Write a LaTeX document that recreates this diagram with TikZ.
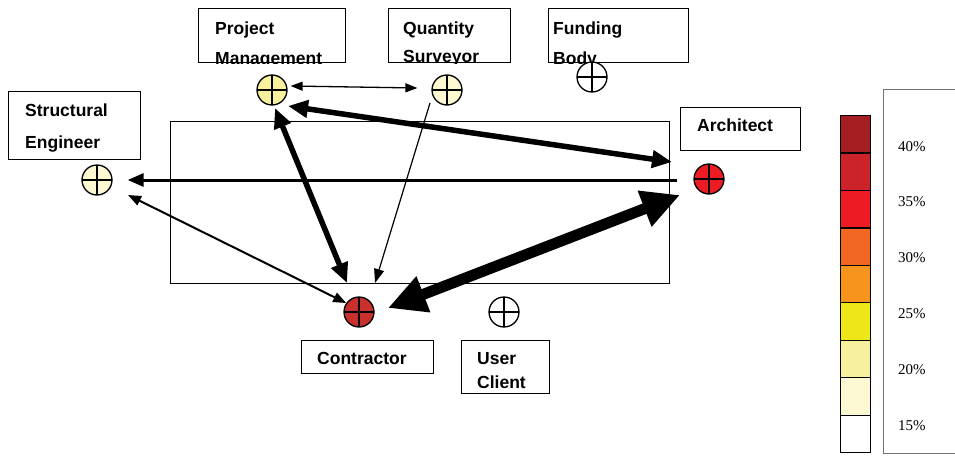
\documentclass[tikz,border=0pt]{standalone}
\usepackage{fontspec}
\setmainfont{Liberation Serif}
\newfontfamily\labfont{Liberation Sans}
\usetikzlibrary{arrows.meta}
\definecolor{cA}{HTML}{A41E22}
\definecolor{cB}{HTML}{CC2229}
\definecolor{cC}{HTML}{ED1C24}
\definecolor{cD}{HTML}{F26722}
\definecolor{cE}{HTML}{F7941E}
\definecolor{cF}{HTML}{EFE619}
\definecolor{cG}{HTML}{F7F09C}
\definecolor{cH}{HTML}{FCF8D2}
\definecolor{cI}{HTML}{FFFFFF}
\definecolor{contr}{HTML}{C9302C}
\begin{document}
\begin{tikzpicture}[x=1pt,y=-1pt,
  boxst/.style={draw, line width=1.3pt, inner sep=0pt, anchor=north west},
  lbl/.style={anchor=base west, inner sep=0pt, font=\labfont\bfseries\fontsize{17.5}{20}\selectfont},
  actor/.style={circle, draw, line width=1.3pt, minimum size=30pt, inner sep=0pt,
    path picture={\draw[line width=1.3pt] (path picture bounding box.north) -- (path picture bounding box.south)
      (path picture bounding box.west) -- (path picture bounding box.east);}},
  legbox/.style={draw, line width=1.2pt, minimum width=30pt, minimum height=37.45pt, inner sep=0pt, anchor=north west},
  pct/.style={anchor=west, inner sep=0pt, font=\fontsize{15}{18}\selectfont}
]
\path[use as bounding box] (0,0) rectangle (955,455);
\clip (0,0) rectangle (955,455);

% central frame
\node[draw, line width=1.2pt, minimum width=499pt, minimum height=162pt, inner sep=0pt, anchor=north west] (frame) at (170,121) {};

% label boxes
\node[boxst, minimum width=147pt, minimum height=54pt] (pmb) at (198,8) {};
\node[boxst, minimum width=122pt, minimum height=54pt] (qsb) at (388,8) {};
\node[boxst, minimum width=140pt, minimum height=54pt] (fbb) at (548,8) {};
\node[boxst, minimum width=132pt, minimum height=68pt] (seb) at (8,91) {};
\node[boxst, minimum width=120pt, minimum height=43pt] (arb) at (680,107) {};
\node[boxst, minimum width=132pt, minimum height=33pt] (cob) at (301,340) {};
\node[boxst, minimum width=88pt, minimum height=53pt] (ucb) at (461,340) {};

\begin{scope}
\clip (pmb.north west) rectangle (pmb.south east);
\node[lbl] (pmt1) at (215,34) {Project};
\node[lbl] (pmt2) at (215,64) {Management};
\end{scope}
\begin{scope}
\clip (qsb.north west) rectangle (qsb.south east);
\node[lbl] (qst1) at (403,34) {Quantity};
\node[lbl] (qst2) at (403,62) {Surveyor};
\end{scope}
\begin{scope}
\clip (fbb.north west) rectangle (fbb.south east);
\node[lbl] (fbt1) at (553,34) {Funding};
\node[lbl] (fbt2) at (553,64) {Body};
\end{scope}
\node[lbl] (set1) at (25,116) {Structural};
\node[lbl] (set2) at (25,148) {Engineer};
\node[lbl] (art) at (697,131) {Architect};
\node[lbl] (cot) at (317,364) {Contractor};
\begin{scope}
\clip (ucb.north west) rectangle (ucb.south east);
\node[lbl] (uct1) at (477,364) {User};
\node[lbl] (uct2) at (477,388) {Client};
\end{scope}

% actor circles
\node[actor, fill=cG] (pmc) at (272,90) {};
\node[actor, fill=cH] (qsc) at (447,90) {};
\node[actor, fill=white] (fbc) at (592,77) {};
\node[actor, fill=cH] (sec) at (97,180) {};
\node[actor, fill=cC] (arc) at (709,179) {};
\node[actor, fill=contr] (coc) at (359,312) {};
\node[actor, fill=white] (ucc) at (504,312) {};

% connectors
\draw[line width=1.3pt, {Triangle[length=12pt,width=9pt]}-{Triangle[length=12pt,width=9pt]}]
  ([shift={(3,-4)}]pmc.east) -- ([shift={(-14,-2)}]qsc.west);
\draw[line width=5.5pt, {Triangle[length=20pt,width=17pt]}-{Triangle[length=20pt,width=17pt]}]
  ([shift={(16,16)}]pmc.center) -- ([shift={(-37,-17)}]arc.center);
\draw[line width=3pt, -{Triangle[length=16pt,width=13pt]}]
  ([shift={(-16,1)}]arc.west) -- ([shift={(15,0)}]sec.east);
\draw[line width=2pt, {Triangle[length=13pt,width=10pt]}-{Triangle[length=13pt,width=10pt]}]
  ([shift={(31,15)}]sec.center) -- (coc.145);
\draw[line width=5.5pt, {Triangle[length=20pt,width=17pt]}-{Triangle[length=20pt,width=17pt]}]
  ([shift={(3,18)}]pmc.center) -- ([shift={(-12,-29)}]coc.center);
\draw[line width=1.2pt, -{Triangle[length=14pt,width=10pt]}]
  ([shift={(-17,13)}]qsc.center) -- ([shift={(16,-29)}]coc.center);
\draw[line width=11pt, {Triangle[length=38pt,width=36pt]}-{Triangle[length=38pt,width=36pt]}]
  ([shift={(29,-4)}]coc.center) -- ([shift={(-29,16)}]arc.center);

% legend
\draw[black!55, line width=0.8pt] (962,89) -- (883,89) -- (883,453) -- (962,453);
\foreach \c [count=\i from 0] in {cA,cB,cC,cD,cE,cF,cG,cH,cI} {
  \node[legbox, fill=\c] (leg\i) at (840,115+37.45*\i) {};
}
\node[pct] (p40) at (898,147) {40\%};
\node[pct] (p35) at (898,202) {35\%};
\node[pct] (p30) at (898,258) {30\%};
\node[pct] (p25) at (898,314) {25\%};
\node[pct] (p20) at (898,370) {20\%};
\node[pct] (p15) at (898,426) {15\%};
\end{tikzpicture}
\end{document}
